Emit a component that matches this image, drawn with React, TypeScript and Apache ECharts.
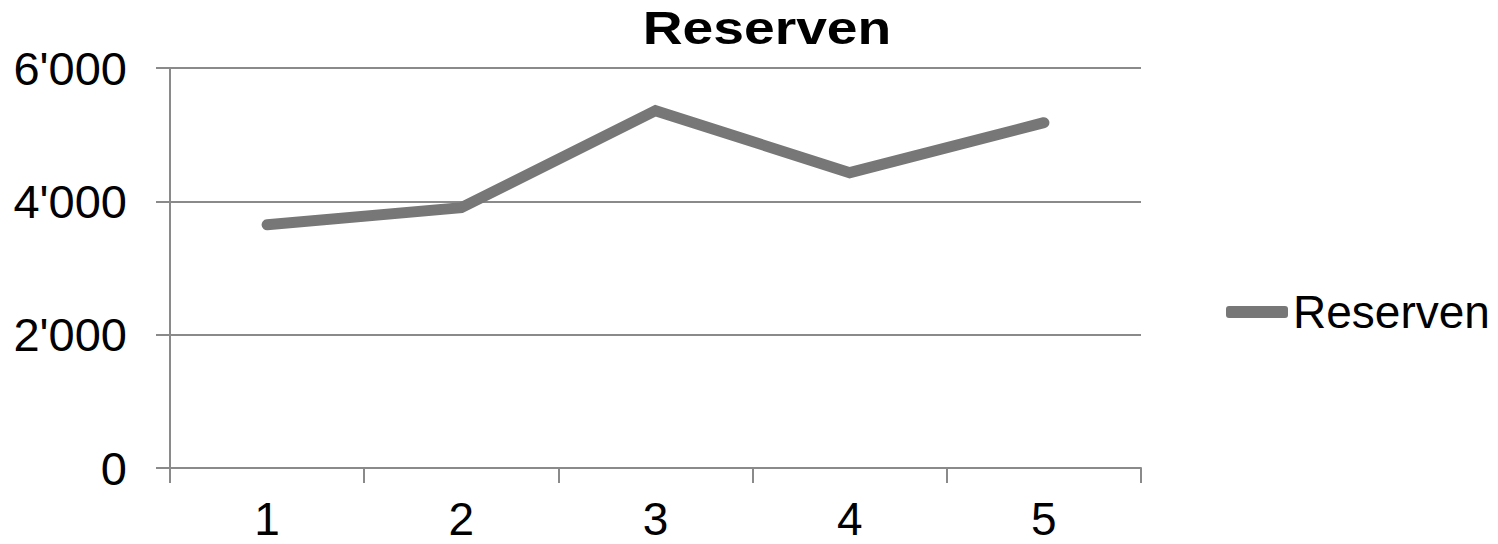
import React, { useEffect, useRef } from "react";
import * as echarts from "echarts";

const categories = ["1", "2", "3", "4", "5"];
const reserven = [3650, 3905, 5360, 4430, 5180];
const yTicks = { min: 0, max: 6000, interval: 2000 };
const seriesName = "Reserven";
const titleText = "Reserven";

const fmt = (v: number) => String(v).replace(/\B(?=(\d{3})+(?!\d))/g, "'");

export default function App() {
  const ref = useRef<HTMLDivElement>(null);
  useEffect(() => {
    if (!ref.current) return;
    const chart = echarts.init(ref.current, undefined, { renderer: "svg" });
    const font = "'Liberation Sans', Arial, sans-serif";
    const axisGrey = "#8a8a8a";
    chart.setOption({
      animation: false,
      backgroundColor: "#ffffff",
      graphic: [
        {
          type: "text",
          x: 767,
          y: 5,
          scaleX: 1.2,
          style: {
            text: titleText,
            font: `bold 46px ${font}`,
            fill: "#000",
            textAlign: "center",
            textVerticalAlign: "top",
          },
        },
      ],
      legend: {
        left: 1226,
        top: 289,
        padding: 0,
        icon: "roundRect",
        itemWidth: 62,
        itemHeight: 12,
        itemGap: 0,
        textStyle: { fontFamily: font, fontSize: 46, color: "#000" },
        data: [seriesName],
      },
      grid: { left: 170, right: 357, top: 68, bottom: 76, containLabel: false },
      xAxis: {
        type: "category",
        data: categories,
        boundaryGap: true,
        axisLine: { lineStyle: { color: axisGrey, width: 2 } },
        axisTick: { show: true, length: 15, alignWithLabel: false, lineStyle: { color: axisGrey, width: 2 } },
        axisLabel: { fontFamily: font, fontSize: 46, color: "#000", margin: 28 },
      },
      yAxis: {
        type: "value",
        min: yTicks.min,
        max: yTicks.max,
        interval: yTicks.interval,
        axisLine: { show: true, lineStyle: { color: axisGrey, width: 2 } },
        axisTick: { show: true, length: 14, lineStyle: { color: axisGrey, width: 2 } },
        splitLine: { show: true, lineStyle: { color: axisGrey, width: 2 } },
        axisLabel: { fontFamily: font, fontSize: 47, color: "#000", margin: 43, formatter: fmt },
      },
      series: [
        {
          name: seriesName,
          type: "line",
          data: reserven,
          symbol: "none",
          color: "#777777",
          lineStyle: { color: "#777777", width: 11, cap: "round", join: "miter" },
        },
      ],
    });
    return () => chart.dispose();
  }, []);
  return <div ref={ref} style={{ width: 1498, height: 544, position: "absolute", left: 0, top: 0 }} />;
}
